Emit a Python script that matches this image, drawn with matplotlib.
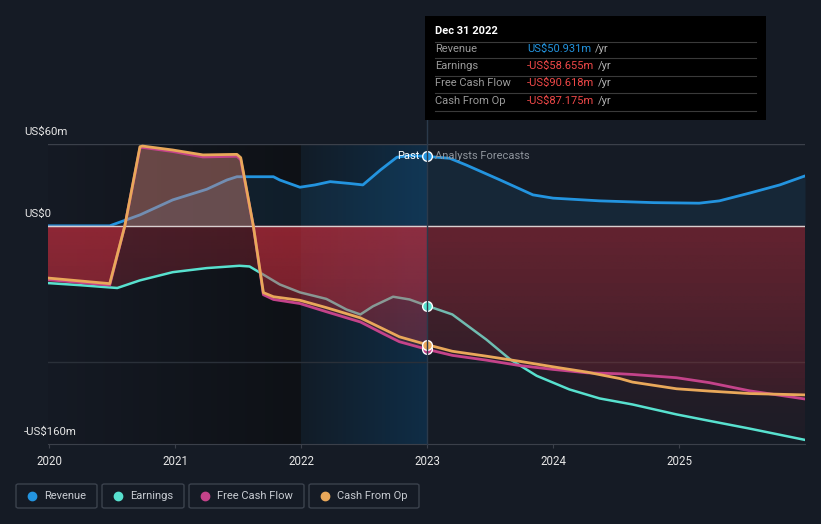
import matplotlib
matplotlib.use('Agg')
import matplotlib.pyplot as plt
import numpy as np
from matplotlib.colors import to_rgb
from matplotlib.patches import PathPatch, FancyBboxPatch, Rectangle
from matplotlib.path import Path
from matplotlib.lines import Line2D

plt.rcParams['font.family'] = ['Roboto', 'DejaVu Sans']

# --- data (US$ m) ---
rev_x = [2019.99, 2020.48, 2020.54, 2020.72, 2020.98, 2021.25, 2021.41, 2021.49, 2021.78,
         2021.83, 2021.99, 2022.11, 2022.23, 2022.39, 2022.49, 2022.63, 2022.76, 2022.86,
         2023.0, 2023.18, 2023.31, 2023.58, 2023.84, 2024.0, 2024.37, 2024.8, 2025.16,
         2025.32, 2025.56, 2025.80, 2026.0]
rev_y = [0, 0, 2, 8, 19, 26.8, 33.6, 36, 36, 33.6, 28.3, 30, 32.4, 31, 30, 41, 50.3, 51.5,
         50.9, 49.5, 44.6, 33.6, 22.7, 20.3, 18.3, 17.0, 16.6, 18.3, 24, 30, 36.6]

earn_x = [2019.99, 2020.24, 2020.54, 2020.72, 2020.98, 2021.25, 2021.51, 2021.59, 2021.70,
          2021.83, 2021.99, 2022.20, 2022.36, 2022.47, 2022.57, 2022.73, 2022.86, 2023.0,
          2023.20, 2023.47, 2023.66, 2023.87, 2024.13, 2024.37, 2024.63, 2024.98, 2025.24,
          2025.56, 2026.0]
earn_y = [-42, -43.5, -45.6, -40, -34, -31, -29.3, -29.8, -35.8, -43, -48.8, -53.6, -61.4,
          -65, -59, -52, -54, -58.655, -65, -83.4, -98, -110, -120, -126.6, -131, -138.3,
          -143, -148.7, -157]

cfo_x = [2019.99, 2020.48, 2020.60, 2020.72, 2020.74, 2020.98, 2021.22, 2021.49, 2021.52,
         2021.62, 2021.70, 2021.78, 2021.99, 2022.20, 2022.47, 2022.66, 2022.78, 2023.0,
         2023.20, 2023.47, 2023.73, 2024.0, 2024.27, 2024.53, 2024.63, 2024.98, 2025.24,
         2025.56, 2026.0]
cfo_y = [-38.3, -42.4, 0, 58, 58.5, 55.6, 52, 52.4, 50, 0, -49, -52, -54.6, -60, -67.5, -76,
         -81.4, -87.175, -92, -95.6, -99.3, -103.4, -107.3, -112, -114.6, -119.5, -121.2,
         -123, -124]

fcf_x = cfo_x
fcf_y = [-39.5, -43.5, 0, 57, 57.5, 54.5, 50.5, 51, 48.5, 0, -50.5, -54, -57, -63, -70.5,
         -79.5, -85, -90.618, -95, -98.5, -102.4, -105.3, -107.8, -108.5, -109, -111.4, -115,
         -121, -127]

years = [2020, 2021, 2022, 2023, 2024, 2025]
legend_names = ['Revenue', 'Earnings', 'Free Cash Flow', 'Cash From Op']

BG = '#151b25'
C_REV = '#2394df'
C_EARN = '#58e1cf'
C_FCF = '#c4438a'
C_CFO = '#e9a85a'
C_RED = '#d03040'

W, H = 821, 524
fig = plt.figure(figsize=(W / 100, H / 100), dpi=100, facecolor=BG)
ax = fig.add_axes([48 / W, 1 - 444 / H, 757 / W, 300 / H])
ax.set_facecolor(BG)
X0, X1, Y0, Y1 = 2019.99, 2026.0, -160, 60


def hgrad(c0, c1, x0, x1, z):
    a, b = np.array(to_rgb(c0)), np.array(to_rgb(c1))
    t = np.linspace(0, 1, 256)[None, :, None]
    img = a + (b - a) * t
    ax.imshow(img, extent=[x0, x1, Y0, Y1], aspect='auto', zorder=z, interpolation='bilinear')


# background bands
hgrad('#151a24', '#0e1116', X0, 2022.0, 0.1)
hgrad('#121c27', '#0f2d46', 2022.0, 2023.0, 0.1)

# grid
for v, c in [(60, '#3b404a'), (-100, '#2a3039')]:
    ax.axhline(v, color=c, lw=1, zorder=0.5)


def red_fill(x, y, a_top, a_bot, z):
    x = np.asarray(x, float)
    y = np.asarray(y, float)
    coll = ax.fill_between(x, y, 0, where=y <= 0, interpolate=True,
                           facecolor='none', edgecolor='none', zorder=z)
    paths = coll.get_paths()
    if not paths:
        return
    grad = np.zeros((256, 1, 4))
    grad[..., :3] = to_rgb(C_RED)
    grad[:, 0, 3] = np.linspace(a_top, a_bot, 256)
    im = ax.imshow(grad, extent=[x.min(), x.max(), Y0, 0], aspect='auto', zorder=z,
                   interpolation='bilinear')
    clip = PathPatch(Path.make_compound_path(*paths), transform=ax.transData,
                     facecolor='none', edgecolor='none')
    im.set_clip_path(clip)


def split(x, y, past):
    x = np.asarray(x, float)
    y = np.asarray(y, float)
    m = x <= 2023.0 if past else x >= 2023.0
    return x[m], y[m]


# revenue
rx, ry = np.array(rev_x), np.array(rev_y)
ax.fill_between(rx, ry, 0, where=ry >= 0, interpolate=True, color=C_REV, alpha=0.1,
                lw=0, zorder=1)
ax.plot(rx, ry, color=C_REV, lw=2.0, zorder=2, solid_capstyle='round')

# earnings
for past in (True, False):
    ex, ey = split(earn_x, earn_y, past)
    red_fill(ex, ey, 0.3 if past else 0.17, 0.1 if past else 0.045, 2.5)
ax.plot(earn_x, earn_y, color=C_EARN, lw=1.8, zorder=2.6)

# free cash flow / cash from op fills
for sx, sy in [(fcf_x, fcf_y), (cfo_x, cfo_y)]:
    for past in (True, False):
        px, py = split(sx, sy, past)
        red_fill(px, py, 0.3 if past else 0.17, 0.1 if past else 0.045, 3)
    sx, sy = np.array(sx), np.array(sy)
    ax.fill_between(sx, sy, 0, where=sy >= 0, interpolate=True, color='#d8887b',
                    alpha=0.25, lw=0, zorder=3)

ax.axhline(0, color='#d8d0d0', lw=1, zorder=3.5)
ax.plot(fcf_x, fcf_y, color=C_FCF, lw=2.0, zorder=4)
ax.plot(cfo_x, cfo_y, color=C_CFO, lw=2.0, zorder=4.1)

# markers at Dec 31 2022
ms = 7
ax.plot([2023.0], [rev_y[rev_x.index(2023.0)]], 'o', ms=ms, mfc=C_REV, mec='white', mew=1, zorder=6)
ax.plot([2023.0], [-58.655], 'o', ms=ms, mfc=C_EARN, mec='white', mew=1, zorder=6)
ax.plot([2023.0], [-90.618], 'o', ms=ms, mfc=C_FCF, mec='white', mew=1, zorder=6)
ax.plot([2023.0], [-87.175], 'o', ms=ms, mfc=C_CFO, mec='white', mew=1, zorder=6.1)

ax.text(2022.94, 51, 'Past', color='white', fontsize=8, ha='right', va='center', zorder=7)
ax.text(2023.065, 51, 'Analysts Forecasts', color='#8e949c', fontsize=8, ha='left',
        va='center', zorder=7)

ax.set_xlim(X0, X1)
ax.set_ylim(Y0, Y1)
for s in ['top', 'right', 'left']:
    ax.spines[s].set_visible(False)
ax.spines['bottom'].set_color('#3b404a')
ax.set_yticks([])
ax.set_xticks(years)
ax.set_xticklabels([str(y) for y in years])
ax.tick_params(axis='x', colors='#3b404a', length=3, labelcolor='#e6e6e6', labelsize=8.3,
               pad=5)


def fx(px):
    return px / W


def fy(py):
    return 1 - py / H


# y labels
for txt, py in [('US$60m', 132), ('US$0', 214), ('-US$160m', 432)]:
    fig.text(fx(24), fy(py), txt, color='#e6e6e6', fontsize=8.2, ha='left', va='center')

# vertical marker line
fig.add_artist(Line2D([fx(427), fx(427)], [fy(120), fy(444)], color='#2b3a4b', lw=1,
                      zorder=5))

# tooltip
fig.add_artist(Rectangle((fx(425), fy(120)), fx(766) - fx(425), fy(16) - fy(120),
                         facecolor='black', edgecolor='none', zorder=8))
fig.text(fx(435), fy(31), 'Dec 31 2022', color='white', fontsize=8, fontweight='bold',
         va='center', zorder=9)
for py in [41.7, 58.3, 76, 93.3, 111]:
    fig.add_artist(Line2D([fx(435), fx(756)], [fy(py), fy(py)], color='#3a3a3a', lw=0.8,
                          zorder=9))
rows = [('Revenue', 'US$50.931m', C_REV),
        ('Earnings', '-US$58.655m', '#f04848'),
        ('Free Cash Flow', '-US$90.618m', '#f04848'),
        ('Cash From Op', '-US$87.175m', '#f04848')]
renderer = fig.canvas.get_renderer()
for i, (lab, val, col) in enumerate(rows):
    py = [49.3, 66, 83.3, 100.7][i]
    fig.text(fx(435), fy(py), lab, color='#9a9a9a', fontsize=8, va='center', zorder=9)
    t = fig.text(fx(527), fy(py), val, color=col, fontsize=8, va='center', zorder=9)
    x_end = t.get_window_extent(renderer).x1
    fig.text(fx(x_end + 4), fy(py), '/yr', color='#b0b0b0', fontsize=8, va='center', zorder=9)

# legend
boxes = [(16, 97), (102, 184), (189, 304), (309, 419)]
cols = [C_REV, C_EARN, C_FCF, C_CFO]
for (l, r), name, c in zip(boxes, legend_names, cols):
    fig.add_artist(FancyBboxPatch((fx(l), fy(508)), fx(r) - fx(l), fy(484) - fy(508),
                                  boxstyle='round,pad=0,rounding_size=0.003',
                                  facecolor='none', edgecolor='#3b424d', lw=1))
    fig.add_artist(Line2D([fx(l + 16)], [fy(496)], marker='o', ms=6, mfc=c, mec=c))
    fig.text(fx(l + 28), fy(496), name, color='#c8ccd2', fontsize=8, va='center')

fig.savefig('out.png', dpi=100, facecolor=BG)
